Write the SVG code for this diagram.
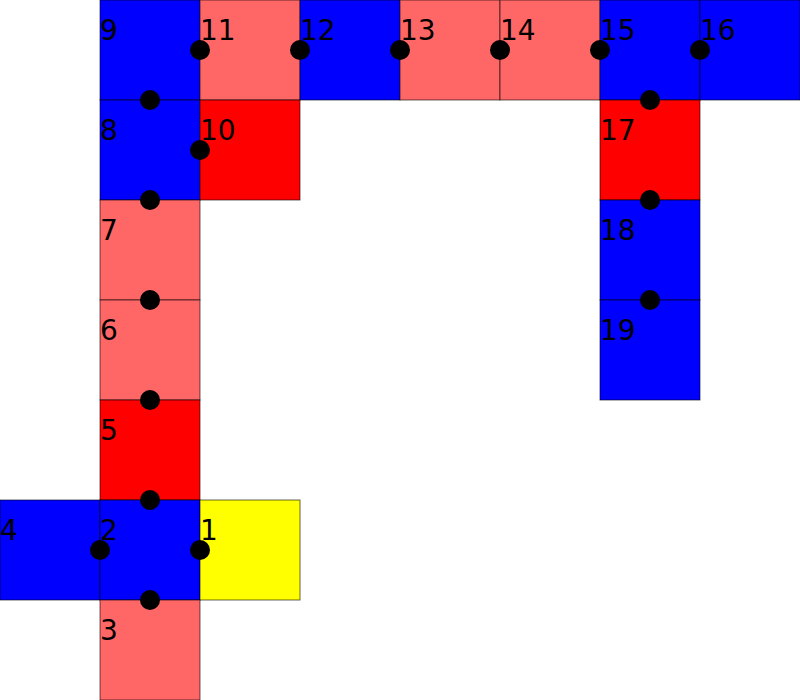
<svg xmlns="http://www.w3.org/2000/svg" width="800" height="700" viewBox="0 0 800 700">
<style>
rect{stroke:#000;stroke-width:1;stroke-opacity:0.6}
.b{fill:#0000ff}.p{fill:#ff6666}.r{fill:#ff0000}.y{fill:#ffff00}
text{font-family:"DejaVu Sans",sans-serif;font-size:28px;fill:#000}
circle{fill:#000}
</style>
<rect width="800" height="700" fill="#fff" style="stroke:none"/>
<g id="n9"><rect class="b" x="100" y="0" width="100" height="100"/><text x="100" y="40">9</text></g>
<g id="n11"><rect class="p" x="200" y="0" width="100" height="100"/><text x="200" y="40">11</text></g>
<g id="n12"><rect class="b" x="300" y="0" width="100" height="100"/><text x="300" y="40">12</text></g>
<g id="n13"><rect class="p" x="400" y="0" width="100" height="100"/><text x="400" y="40">13</text></g>
<g id="n14"><rect class="p" x="500" y="0" width="100" height="100"/><text x="500" y="40">14</text></g>
<g id="n15"><rect class="b" x="600" y="0" width="100" height="100"/><text x="600" y="40">15</text></g>
<g id="n16"><rect class="b" x="700" y="0" width="100" height="100"/><text x="700" y="40">16</text></g>
<g id="n8"><rect class="b" x="100" y="100" width="100" height="100"/><text x="100" y="140">8</text></g>
<g id="n10"><rect class="r" x="200" y="100" width="100" height="100"/><text x="200" y="140">10</text></g>
<g id="n17"><rect class="r" x="600" y="100" width="100" height="100"/><text x="600" y="140">17</text></g>
<g id="n7"><rect class="p" x="100" y="200" width="100" height="100"/><text x="100" y="240">7</text></g>
<g id="n18"><rect class="b" x="600" y="200" width="100" height="100"/><text x="600" y="240">18</text></g>
<g id="n6"><rect class="p" x="100" y="300" width="100" height="100"/><text x="100" y="340">6</text></g>
<g id="n19"><rect class="b" x="600" y="300" width="100" height="100"/><text x="600" y="340">19</text></g>
<g id="n5"><rect class="r" x="100" y="400" width="100" height="100"/><text x="100" y="440">5</text></g>
<g id="n4"><rect class="b" x="0" y="500" width="100" height="100"/><text x="0" y="540">4</text></g>
<g id="n2"><rect class="b" x="100" y="500" width="100" height="100"/><text x="100" y="540">2</text></g>
<g id="n1"><rect class="y" x="200" y="500" width="100" height="100"/><text x="200" y="540">1</text></g>
<g id="n3"><rect class="p" x="100" y="600" width="100" height="100"/><text x="100" y="640">3</text></g>
<g id="connectors">
<circle cx="200" cy="50" r="10"/><circle cx="300" cy="50" r="10"/><circle cx="400" cy="50" r="10"/>
<circle cx="500" cy="50" r="10"/><circle cx="600" cy="50" r="10"/><circle cx="700" cy="50" r="10"/>
<circle cx="150" cy="100" r="10"/><circle cx="200" cy="150" r="10"/><circle cx="150" cy="200" r="10"/>
<circle cx="150" cy="300" r="10"/><circle cx="150" cy="400" r="10"/><circle cx="150" cy="500" r="10"/>
<circle cx="100" cy="550" r="10"/><circle cx="200" cy="550" r="10"/><circle cx="150" cy="600" r="10"/>
<circle cx="650" cy="100" r="10"/><circle cx="650" cy="200" r="10"/><circle cx="650" cy="300" r="10"/>
</g>
</svg>
